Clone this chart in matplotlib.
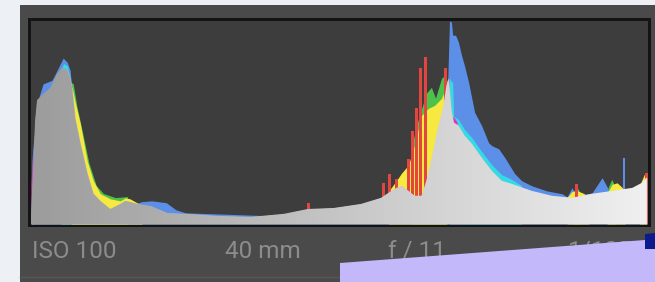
import matplotlib.pyplot as plt
import numpy as np
from matplotlib.patches import Rectangle, Polygon
from matplotlib.colors import LinearSegmentedColormap

# histogram: tone 0-255, height in % of the box
lum_tone = [0, 0.8, 1.7, 2.5, 5, 7.9, 10.8, 12.9, 15, 16.2, 17, 18.3, 20.4, 23.3, 25.8,
            28.7, 32.8, 37, 39, 41, 44, 49.5, 56.5, 64.8, 77.3, 91, 104.7, 114.7, 125.5,
            136.7, 145, 150.4, 153.4, 156.3, 158.8, 161.7, 163.7, 165.8, 168.7, 170.8,
            172, 172.9, 174.1, 175, 177, 179.5, 182.5, 186.6, 190.8, 194.9, 199, 207.4,
            215.7, 224, 232.3, 240.6, 249, 253, 255]
lum = [4, 26, 51, 61, 64, 67, 74, 77, 76, 72, 67, 52, 40, 25, 15,
       11.4, 7.4, 9.9, 11.4, 10.9, 9.9, 8.9, 5.4, 5, 4, 3.5, 5, 7.4, 7.9,
       9.9, 12.9, 17.3, 18.8, 16.3, 13.9, 13.9, 21.3, 32, 48.5, 58.4,
       68, 71.8, 56, 50, 48.5, 43.6, 39.6, 32.7, 26.2, 21.3, 19.8, 16.3,
       13.9, 12.9, 14.9, 16.3, 17.8, 20.3, 23]

blue_tone = [0, 0.4, 0.8, 2.9, 5, 8.7, 10.8, 13.3, 15, 16.2, 17, 20, 30, 40, 46, 50, 56,
             60, 64, 100, 150, 165, 172, 172.6, 173.3, 174.1, 174.6, 175.8, 177, 178.3,
             179.5, 181.2, 183.7, 186.6, 189.5, 190.8, 193.7, 196.2, 200.3, 203.2, 207.4,
             213.6, 219.9, 222, 224, 226, 232.3, 236.5, 239, 244.8, 249, 253, 255]
blue = [0, 31, 37.6, 61, 69, 70.8, 75.7, 81.7, 79.7, 75.7, 65.8, 42, 8, 9, 11, 11.4, 10.5,
        7, 5.5, 4, 12, 22, 68, 72, 100, 99.5, 93, 93, 89.6, 83,
        78, 69.8, 55, 48.5, 40, 38.6, 37, 32.7, 24.8, 21.3, 18.8,
        16.3, 14.9, 13.4, 17.8, 13.9, 15.3, 22.8, 17.3, 16.3, 17.8, 18.8, 22]
blue_spike_tone = [245.6]
blue_spike = [32.7]

yellow_segments = [
    ([16.5, 17, 18.3, 20.4, 23.3, 25.8, 28.7, 32.8, 37, 39, 41, 44, 46],
     [66, 67.5, 60, 49.5, 31, 21.3, 14.9, 12.4, 11.4, 12.9, 12.4, 10.4, 9]),
    ([148, 151.3, 153.4, 156.3, 158.8, 161.7, 164.6, 167.1, 170, 172],
     [16, 21.3, 25, 29, 38.6, 53.5, 57, 58.4, 61.9, 68]),
    ([222, 224, 226, 229, 231], [13, 16, 16.5, 15, 13]),
    ([238.5, 240.6, 242.7, 244.8, 246], [15, 19.5, 20.3, 18, 15]),
    ([252, 254, 255], [19, 24.5, 24]),
]
green_segments = [
    ([16.5, 17.5, 19, 21, 24, 27, 30, 35, 40], [70, 69, 58, 47, 30, 19, 15, 13, 13.5]),
    ([158, 160, 163.7, 165.8, 167.5, 170, 171.2, 172.5], [40, 50, 64.4, 67.3, 62, 71.8, 73, 70]),
    ([224.5, 226, 227.5], [15, 18.5, 15]),
    ([239, 240.5, 242], [18, 22, 18]),
]
cyan_segments = [
    ([12.5, 13.5, 15, 16], [76, 79, 78, 73]),
    ([173.3, 174.1, 174.6, 175, 177, 179.5, 182.5, 186.6, 190.8, 194.9, 199, 203],
     [72, 70, 70, 53, 51.5, 46.6, 42.6, 35.7, 29.2, 24.3, 22, 19]),
]
magenta_segments = [
    ([0, 0.5, 1.2], [20, 30, 36]),
    ([174.5, 175.5, 176.5], [53, 52, 50]),
]
red_spike_tone = [115, 145.9, 148.4, 151.3, 156.3, 157.9, 159.6, 161.3, 163.3, 171.6, 226, 255]
red_spike = [10.4, 20.3, 24.8, 22.3, 32.2, 46, 57, 76.7, 82.2, 76.7, 19.8, 25]

labels = ['ISO 100', '40 mm', 'f / 11', '1/125']
label_x = [32, 225, 388, 568]

W, H = 655, 282
fig = plt.figure(figsize=(W / 100, H / 100), dpi=100)
fig.patch.set_facecolor('#edf0f4')

bg = fig.add_axes([0, 0, 1, 1])
bg.set_xlim(0, W)
bg.set_ylim(H, 0)
bg.axis('off')
bg.add_patch(Rectangle((20, 5), 640, 280, fc='#4a4a4a', ec='none'))
bg.add_patch(Rectangle((28, 18), 623, 209, fc='#141414', ec='none'))
bg.plot([20, 655], [277, 277], color='#565656', lw=1)
for s, x in zip(labels, label_x):
    bg.text(x, 251, s, color='#8c8c8c', fontsize=17.5, family='Roboto',
            ha='left', va='center', zorder=3)
bg.add_patch(Polygon([(340, 263), (645, 240), (655, 239), (655, 282), (340, 282)],
                     closed=True, fc='#c2b8fa', ec='none', zorder=10))
bg.add_patch(Polygon([(645, 234), (655, 233), (655, 249), (645, 249)],
                     closed=True, fc='#0b1a8c', ec='none', zorder=11))

ax = fig.add_axes([31 / W, (H - 224) / H, 617 / W, 203 / H])
ax.set_facecolor('#3d3d3d')
ax.set_xlim(0, 255.5)
ax.set_ylim(0, 100)
ax.set_xticks([])
ax.set_yticks([])
for sp in ax.spines.values():
    sp.set_visible(False)

ax.fill_between(blue_tone, blue, color='#5c8fe8', lw=0, zorder=1)
ax.bar(blue_spike_tone, blue_spike, width=0.7, color='#5c8fe8', lw=0, zorder=1)
for t, v in green_segments:
    ax.fill_between(t, v, color='#4cc24a', lw=0, zorder=2)
for t, v in yellow_segments:
    ax.fill_between(t, v, color='#f7e940', lw=0, zorder=3)
for t, v in cyan_segments:
    ax.fill_between(t, v, color='#34dbe4', lw=0, zorder=3)
for t, v in magenta_segments:
    ax.fill_between(t, v, color='#e034c4', lw=0, zorder=3)
ax.bar(red_spike_tone, red_spike, width=1.1, color='#e2463e', lw=0, zorder=4)

gray = ax.fill_between(lum_tone, lum, color='#bbbbbb', lw=0, zorder=5)
cmap = LinearSegmentedColormap.from_list('lum', ['#9c9c9c', '#f0f0f0'])
grad = np.linspace(0, 1, 256).reshape(1, -1)
im = ax.imshow(grad, extent=[0, 255.5, 0, 100], aspect='auto', cmap=cmap, zorder=6)
im.set_clip_path(gray.get_paths()[0], transform=ax.transData)

fig.savefig('out.png', dpi=100, facecolor=fig.get_facecolor())
